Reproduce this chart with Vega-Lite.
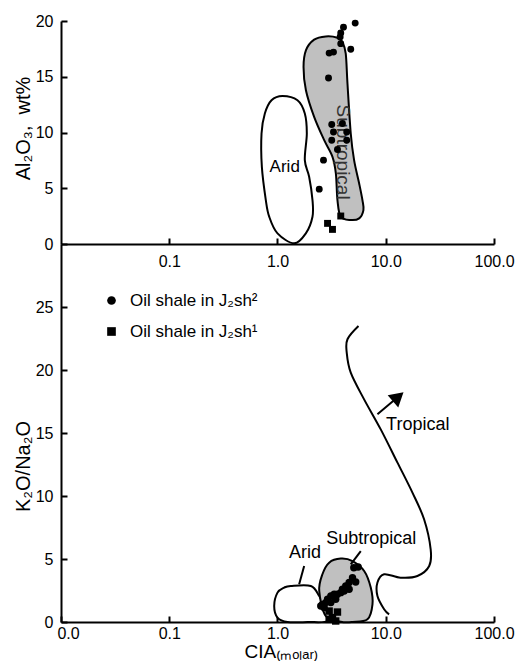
{
  "$schema": "https://vega.github.io/schema/vega-lite/v6.json",
  "background": "white",
  "padding": {"left": 13, "top": 13, "right": 2, "bottom": 2},
  "bounds": "flush",
  "spacing": 0,
  "config": {
    "view": {"stroke": null},
    "font": "Liberation Sans",
    "axis": {
      "domainColor": "black",
      "domainWidth": 2,
      "tickColor": "black",
      "tickWidth": 2,
      "tickSize": -6,
      "grid": false,
      "labelFont": "Liberation Sans",
      "labelFontSize": 16,
      "labelColor": "black",
      "labelPadding": 14,
      "labelOverlap": false,
      "titleFont": "Liberation Sans",
      "titleFontSize": 20,
      "titleFontWeight": "normal",
      "titleColor": "black"
    },
    "text": {"font": "Liberation Sans", "color": "black"}
  },
  "resolve": {"scale": {"shape": "independent"}, "legend": {"shape": "independent"}},
  "datasets": {
    "top_arid": [
      {"i": 0, "x": 1.112, "y": 13.28},
      {"i": 1, "x": 1.53, "y": 12.89},
      {"i": 2, "x": 1.788, "y": 11.7},
      {"i": 3, "x": 1.866, "y": 9.91},
      {"i": 4, "x": 1.788, "y": 7.52},
      {"i": 5, "x": 1.96, "y": 6.03},
      {"i": 6, "x": 2.105, "y": 3.94},
      {"i": 7, "x": 2.105, "y": 2.45},
      {"i": 8, "x": 1.827, "y": 0.955},
      {"i": 9, "x": 1.425, "y": 0.06},
      {"i": 10, "x": 1.0, "y": 0.955},
      {"i": 11, "x": 0.838, "y": 2.45},
      {"i": 12, "x": 0.78, "y": 3.94},
      {"i": 13, "x": 0.717, "y": 6.92},
      {"i": 14, "x": 0.712, "y": 9.91},
      {"i": 15, "x": 0.764, "y": 11.7},
      {"i": 16, "x": 0.88, "y": 12.89}
    ],
    "top_subtropical": [
      {"i": 0, "x": 2.79, "y": 18.62},
      {"i": 1, "x": 3.58, "y": 18.5},
      {"i": 2, "x": 3.98, "y": 18.11},
      {"i": 3, "x": 4.27, "y": 17.07},
      {"i": 4, "x": 4.43, "y": 14.39},
      {"i": 5, "x": 4.75, "y": 9.91},
      {"i": 6, "x": 5.1, "y": 7.52},
      {"i": 7, "x": 5.68, "y": 5.43},
      {"i": 8, "x": 6.09, "y": 3.94},
      {"i": 9, "x": 6.22, "y": 3.04},
      {"i": 10, "x": 5.68, "y": 2.3},
      {"i": 11, "x": 4.75, "y": 2.15},
      {"i": 12, "x": 3.84, "y": 2.44},
      {"i": 13, "x": 3.58, "y": 3.94},
      {"i": 14, "x": 3.46, "y": 6.33},
      {"i": 15, "x": 3.22, "y": 7.82},
      {"i": 16, "x": 2.7, "y": 9.31},
      {"i": 17, "x": 2.18, "y": 11.4},
      {"i": 18, "x": 1.83, "y": 13.79},
      {"i": 19, "x": 1.74, "y": 15.87},
      {"i": 20, "x": 1.83, "y": 17.37},
      {"i": 21, "x": 2.18, "y": 18.33}
    ],
    "top_samples": [
      {"x": 5.22, "y": 19.81, "type": "Oil shale in J₂sh²"},
      {"x": 4.07, "y": 19.45, "type": "Oil shale in J₂sh²"},
      {"x": 3.84, "y": 18.92, "type": "Oil shale in J₂sh²"},
      {"x": 3.79, "y": 18.56, "type": "Oil shale in J₂sh²"},
      {"x": 3.84, "y": 17.97, "type": "Oil shale in J₂sh²"},
      {"x": 4.75, "y": 17.46, "type": "Oil shale in J₂sh²"},
      {"x": 3.0, "y": 17.12, "type": "Oil shale in J₂sh²"},
      {"x": 3.29, "y": 17.21, "type": "Oil shale in J₂sh²"},
      {"x": 2.96, "y": 14.89, "type": "Oil shale in J₂sh²"},
      {"x": 3.17, "y": 10.72, "type": "Oil shale in J₂sh²"},
      {"x": 3.98, "y": 10.81, "type": "Oil shale in J₂sh²"},
      {"x": 4.36, "y": 10.05, "type": "Oil shale in J₂sh²"},
      {"x": 3.29, "y": 10.05, "type": "Oil shale in J₂sh²"},
      {"x": 3.17, "y": 9.31, "type": "Oil shale in J₂sh²"},
      {"x": 4.36, "y": 9.31, "type": "Oil shale in J₂sh²"},
      {"x": 3.58, "y": 8.47, "type": "Oil shale in J₂sh²"},
      {"x": 2.66, "y": 7.52, "type": "Oil shale in J₂sh²"},
      {"x": 2.43, "y": 4.92, "type": "Oil shale in J₂sh²"},
      {"x": 3.84, "y": 2.51, "type": "Oil shale in J₂sh¹"},
      {"x": 2.9, "y": 1.85, "type": "Oil shale in J₂sh¹"},
      {"x": 3.22, "y": 1.31, "type": "Oil shale in J₂sh¹"}
    ],
    "bottom_arid": [
      {"i": 0, "x": 1.152, "y": 2.73},
      {"i": 1, "x": 1.327, "y": 2.86},
      {"i": 2, "x": 2.03, "y": 2.86},
      {"i": 3, "x": 2.43, "y": 2.06},
      {"i": 4, "x": 2.79, "y": 1.01},
      {"i": 5, "x": 2.9, "y": 0.08},
      {"i": 6, "x": 1.892, "y": 0.0},
      {"i": 7, "x": 1.237, "y": 0.0},
      {"i": 8, "x": 1.0, "y": 0.35},
      {"i": 9, "x": 0.932, "y": 1.27},
      {"i": 10, "x": 1.0, "y": 2.33}
    ],
    "bottom_subtropical": [
      {"i": 0, "x": 3.84, "y": 5.03},
      {"i": 1, "x": 4.93, "y": 4.84},
      {"i": 2, "x": 6.32, "y": 4.05},
      {"i": 3, "x": 7.27, "y": 2.73},
      {"i": 4, "x": 7.54, "y": 1.4},
      {"i": 5, "x": 6.78, "y": 0.21},
      {"i": 6, "x": 4.93, "y": 0.0},
      {"i": 7, "x": 3.84, "y": 0.02},
      {"i": 8, "x": 2.79, "y": 0.48},
      {"i": 9, "x": 2.43, "y": 2.46},
      {"i": 10, "x": 2.6, "y": 3.79},
      {"i": 11, "x": 3.0, "y": 4.71}
    ],
    "tropical_curve": [
      {"i": 0, "x": 5.6, "y": 23.49},
      {"i": 1, "x": 4.43, "y": 22.44},
      {"i": 2, "x": 4.36, "y": 21.38},
      {"i": 3, "x": 4.75, "y": 19.79},
      {"i": 4, "x": 6.31, "y": 17.67},
      {"i": 5, "x": 8.99, "y": 15.29},
      {"i": 6, "x": 12.83, "y": 12.65},
      {"i": 7, "x": 17.64, "y": 10.27},
      {"i": 8, "x": 22.6, "y": 8.15},
      {"i": 9, "x": 26.0, "y": 5.77},
      {"i": 10, "x": 25.2, "y": 4.44},
      {"i": 11, "x": 19.6, "y": 3.65},
      {"i": 12, "x": 13.7, "y": 3.52},
      {"i": 13, "x": 9.66, "y": 3.79},
      {"i": 14, "x": 8.38, "y": 3.13},
      {"i": 15, "x": 8.38, "y": 2.06},
      {"i": 16, "x": 9.66, "y": 1.01},
      {"i": 17, "x": 10.74, "y": 0.61}
    ],
    "leaders": [
      {"x": 1.585, "y": 2.99, "x2": 1.763, "y2": 4.44},
      {"x": 4.75, "y": 4.58, "x2": 5.88, "y2": 5.63},
      {"x": 8.38, "y": 16.48, "x2": 13.04, "y2": 17.87}
    ],
    "arrow_head": [
      {"x": 13.04, "y": 17.87}
    ],
    "bottom_labels": [
      {"x": 1.795, "y": 5.47, "label": "Arid"},
      {"x": 7.35, "y": 6.59, "label": "Subtropical"},
      {"x": 19.75, "y": 15.61, "label": "Tropical"}
    ],
    "bottom_samples": [
      {"x": 5.56, "y": 4.37, "type": "Oil shale in J₂sh²"},
      {"x": 5.07, "y": 4.3, "type": "Oil shale in J₂sh²"},
      {"x": 5.28, "y": 3.17, "type": "Oil shale in J₂sh²"},
      {"x": 4.93, "y": 3.52, "type": "Oil shale in J₂sh²"},
      {"x": 4.59, "y": 3.13, "type": "Oil shale in J₂sh²"},
      {"x": 4.27, "y": 2.86, "type": "Oil shale in J₂sh²"},
      {"x": 4.59, "y": 2.6, "type": "Oil shale in J₂sh²"},
      {"x": 4.13, "y": 2.46, "type": "Oil shale in J₂sh²"},
      {"x": 3.84, "y": 2.33, "type": "Oil shale in J₂sh²"},
      {"x": 3.58, "y": 2.2, "type": "Oil shale in J₂sh²"},
      {"x": 3.34, "y": 2.2, "type": "Oil shale in J₂sh²"},
      {"x": 3.11, "y": 2.06, "type": "Oil shale in J₂sh²"},
      {"x": 2.9, "y": 1.8, "type": "Oil shale in J₂sh²"},
      {"x": 2.79, "y": 1.54, "type": "Oil shale in J₂sh²"},
      {"x": 2.6, "y": 1.4, "type": "Oil shale in J₂sh²"},
      {"x": 2.51, "y": 1.27, "type": "Oil shale in J₂sh²"},
      {"x": 3.11, "y": 1.54, "type": "Oil shale in J₂sh²"},
      {"x": 3.45, "y": 1.8, "type": "Oil shale in J₂sh²"},
      {"x": 3.98, "y": 2.6, "type": "Oil shale in J₂sh²"},
      {"x": 2.7, "y": 1.14, "type": "Oil shale in J₂sh²"},
      {"x": 3.0, "y": 0.87, "type": "Oil shale in J₂sh¹"},
      {"x": 3.58, "y": 0.79, "type": "Oil shale in J₂sh¹"},
      {"x": 3.22, "y": 0.35, "type": "Oil shale in J₂sh¹"},
      {"x": 3.0, "y": 0.21, "type": "Oil shale in J₂sh¹"},
      {"x": 3.45, "y": 0.08, "type": "Oil shale in J₂sh¹"}
    ]
  },
  "vconcat": [
    {
      "width": 433,
      "height": 223,
      "encoding": {
        "x": {
          "field": "x",
          "type": "quantitative",
          "scale": {"type": "log", "domain": [0.01, 100]},
          "axis": {"values": [0.1, 1, 10, 100], "format": ".1f", "title": null, "labelPadding": 15, "labelFlush": false}
        },
        "y": {
          "field": "y",
          "type": "quantitative",
          "scale": {"domain": [0, 20]},
          "axis": {
            "values": [0, 5, 10, 15, 20],
            "title": "Al₂O₃,\u00a0\u00a0wt%",
            "titleX": -32,
            "titleY": 107,
            "titleAlign": "center",
            "titleBaseline": "alphabetic"
          }
        }
      },
      "layer": [
        {
          "data": {"name": "top_arid"},
          "mark": {"type": "line", "interpolate": "cardinal-closed", "stroke": "black", "strokeWidth": 2, "fill": "white"},
          "encoding": {"order": {"field": "i", "type": "quantitative"}}
        },
        {
          "data": {"name": "top_subtropical"},
          "mark": {"type": "line", "interpolate": "cardinal-closed", "stroke": "black", "strokeWidth": 2, "fill": "#c0c0c0"},
          "encoding": {"order": {"field": "i", "type": "quantitative"}}
        },
        {
          "data": {"values": [{"x": 1.166, "y": 6.88, "label": "Arid"}]},
          "mark": {"type": "text", "fontSize": 17, "align": "center", "baseline": "middle"},
          "encoding": {"text": {"field": "label"}}
        },
        {
          "data": {"values": [{"x": 4.05, "y": 8.24, "label": "Subtropical"}]},
          "mark": {"type": "text", "fontSize": 19, "angle": 90, "align": "center", "baseline": "middle", "color": "#333333"},
          "encoding": {"text": {"field": "label"}}
        },
        {
          "data": {"name": "top_samples"},
          "mark": {"type": "point", "filled": true, "color": "black", "opacity": 1, "size": 48},
          "encoding": {
            "shape": {
              "field": "type",
              "type": "nominal",
              "scale": {"domain": ["Oil shale in J₂sh²", "Oil shale in J₂sh¹"], "range": ["circle", "square"]},
              "legend": null
            }
          }
        }
      ]
    },
    {
      "width": 433,
      "height": 378,
      "encoding": {
        "x": {
          "field": "x",
          "type": "quantitative",
          "scale": {"type": "log", "domain": [0.01, 100]},
          "axis": {
            "values": [0.01, 0.1, 1, 10, 100],
            "format": ".1f",
            "title": "CIA₍ₘₒₗₐᵣ₎",
            "titleFontSize": 19,
            "titleX": 183,
            "titleY": 35,
            "titleAlign": "left",
            "titleBaseline": "alphabetic",
            "labelPadding": 9,
            "labelFlush": false,
            "labelOffset": {"condition": {"test": "datum.value < 0.05", "value": 7}, "value": 0}
          }
        },
        "y": {
          "field": "y",
          "type": "quantitative",
          "scale": {"domain": [0, 30]},
          "axis": {
            "values": [0, 5, 10, 15, 20, 25],
            "title": "K₂O/Na₂O",
            "titleX": -32,
            "titleY": 222,
            "titleAlign": "center",
            "titleBaseline": "alphabetic"
          }
        }
      },
      "layer": [
        {
          "data": {"name": "bottom_arid"},
          "mark": {"type": "line", "interpolate": "cardinal-closed", "stroke": "black", "strokeWidth": 2, "fill": "white"},
          "encoding": {"order": {"field": "i", "type": "quantitative"}}
        },
        {
          "data": {"name": "bottom_subtropical"},
          "mark": {"type": "line", "interpolate": "cardinal-closed", "stroke": "black", "strokeWidth": 2, "fill": "#c0c0c0"},
          "encoding": {"order": {"field": "i", "type": "quantitative"}}
        },
        {
          "data": {"name": "tropical_curve"},
          "mark": {"type": "line", "interpolate": "cardinal", "stroke": "black", "strokeWidth": 2},
          "encoding": {"order": {"field": "i", "type": "quantitative"}}
        },
        {
          "data": {"name": "leaders"},
          "mark": {"type": "rule", "color": "black", "strokeWidth": 2},
          "encoding": {"x2": {"field": "x2"}, "y2": {"field": "y2"}}
        },
        {
          "data": {"name": "arrow_head"},
          "mark": {"type": "point", "shape": "triangle-up", "filled": true, "color": "black", "opacity": 1, "size": 260, "angle": 49},
          "encoding": {}
        },
        {
          "data": {"name": "bottom_labels"},
          "mark": {"type": "text", "fontSize": 18, "align": "center", "baseline": "middle"},
          "encoding": {"text": {"field": "label"}}
        },
        {
          "data": {"name": "bottom_samples"},
          "mark": {"type": "point", "filled": true, "color": "black", "opacity": 1, "size": 55},
          "encoding": {
            "shape": {
              "field": "type",
              "type": "nominal",
              "scale": {"domain": ["Oil shale in J₂sh²", "Oil shale in J₂sh¹"], "range": ["circle", "square"]},
              "legend": {
                "title": null,
                "orient": "none",
                "legendX": 42,
                "legendY": 48,
                "direction": "vertical",
                "padding": 0,
                "labelFont": "Liberation Sans",
                "labelFontSize": 17,
                "labelColor": "black",
                "labelOffset": 10,
                "rowPadding": 13,
                "symbolSize": 75,
                "symbolFillColor": "black",
                "symbolStrokeColor": "black"
              }
            }
          }
        }
      ]
    }
  ]
}
